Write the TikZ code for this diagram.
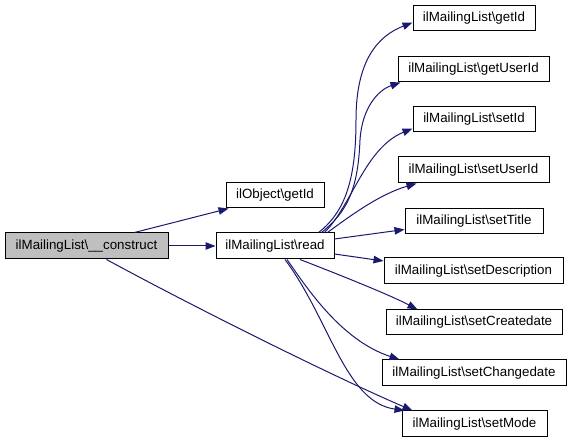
\documentclass[tikz,border=0pt]{standalone}
\usepackage{fontspec}
\setmainfont{Liberation Sans}
\usetikzlibrary{arrows.meta}
\definecolor{edgeblue}{HTML}{191970}
\definecolor{boxgray}{HTML}{BFBFBF}
\begin{document}
\begin{tikzpicture}[x=1pt,y=-1pt,
  fn/.style={draw=black,line width=1pt,fill=white,inner sep=0pt,font=\fontsize{13.33}{16}\selectfont,text height=9.6pt,text depth=2.8pt},
  edge/.style={draw=edgeblue,line width=1pt,-{Triangle[length=10pt,width=7.5pt]}}]
\useasboundingbox (0,0) rectangle (571,443);
\node[fn,fill=boxgray,minimum width=163pt,minimum height=26pt] (cons) at (86.5,246) {ilMailingList\textbackslash\_\_construct};
\node[fn,minimum width=98pt,minimum height=25pt] (oget) at (275,195.5) {ilObject\textbackslash getId};
\node[fn,minimum width=118pt,minimum height=26pt] (read) at (275,246) {ilMailingList\textbackslash read};
\node[fn,minimum width=122pt,minimum height=25pt] (getid) at (474,18.5) {ilMailingList\textbackslash getId};
\node[fn,minimum width=151pt,minimum height=25pt] (getuid) at (473.5,69.5) {ilMailingList\textbackslash getUserId};
\node[fn,minimum width=122pt,minimum height=25pt] (setid) at (474,119.5) {ilMailingList\textbackslash setId};
\node[fn,minimum width=151pt,minimum height=26pt] (setuid) at (473.5,170) {ilMailingList\textbackslash setUserId};
\node[fn,minimum width=138pt,minimum height=25pt] (settitle) at (474,221.5) {ilMailingList\textbackslash setTitle};
\node[fn,minimum width=179pt,minimum height=26pt] (setdesc) at (473.5,271) {ilMailingList\textbackslash setDescription};
\node[fn,minimum width=176pt,minimum height=25pt] (setcre) at (474,322.5) {ilMailingList\textbackslash setCreatedate};
\node[fn,minimum width=184pt,minimum height=26pt] (setchg) at (474,373) {ilMailingList\textbackslash setChangedate};
\node[fn,minimum width=145pt,minimum height=26pt] (setmode) at (474.5,424) {ilMailingList\textbackslash setMode};
% edges
\draw[edge] ([xshift=48pt]cons.north) -- ([xshift=3pt]oget.south west);
\draw[edge] (cons.east) -- (read.west);
\draw[edge] ([xshift=20pt]cons.south) .. controls (190,305) and (330,375) .. ([xshift=11pt]setmode.north west);
\draw[edge] ([xshift=-16pt]read.north east) .. controls (345,212) and (356,180) .. (356,120) .. controls (356,60) and (378,36) .. ([yshift=-4pt]getid.west);
\draw[edge] ([xshift=-13pt]read.north east) .. controls (347,212) and (358,190) .. (360,140) .. controls (362,108) and (378,90) .. ([xshift=3pt]getuid.south west);
\draw[edge] ([xshift=-10pt]read.north east) .. controls (352,205) and (365,148) .. ([yshift=-9pt]setid.west);
\draw[edge] ([xshift=-7pt]read.north east) .. controls (350,216) and (380,194) .. ([xshift=19pt]setuid.south west);
\draw[edge] ([yshift=7pt]read.east) -- ([yshift=-8pt]settitle.west);
\draw[edge] ([yshift=-8pt]read.east) -- ([yshift=10pt]setdesc.west);
\draw[edge] ([xshift=25pt]read.south) .. controls (340,275) and (390,295) .. ([xshift=32pt]setcre.north west);
\draw[edge] ([xshift=12pt]read.south) .. controls (305,285) and (340,340) .. ([xshift=18pt]setchg.north west);
\draw[edge] ([xshift=10pt]read.south) .. controls (330,320) and (345,402) .. ([xshift=3pt]setmode.north west);
\end{tikzpicture}
\end{document}
